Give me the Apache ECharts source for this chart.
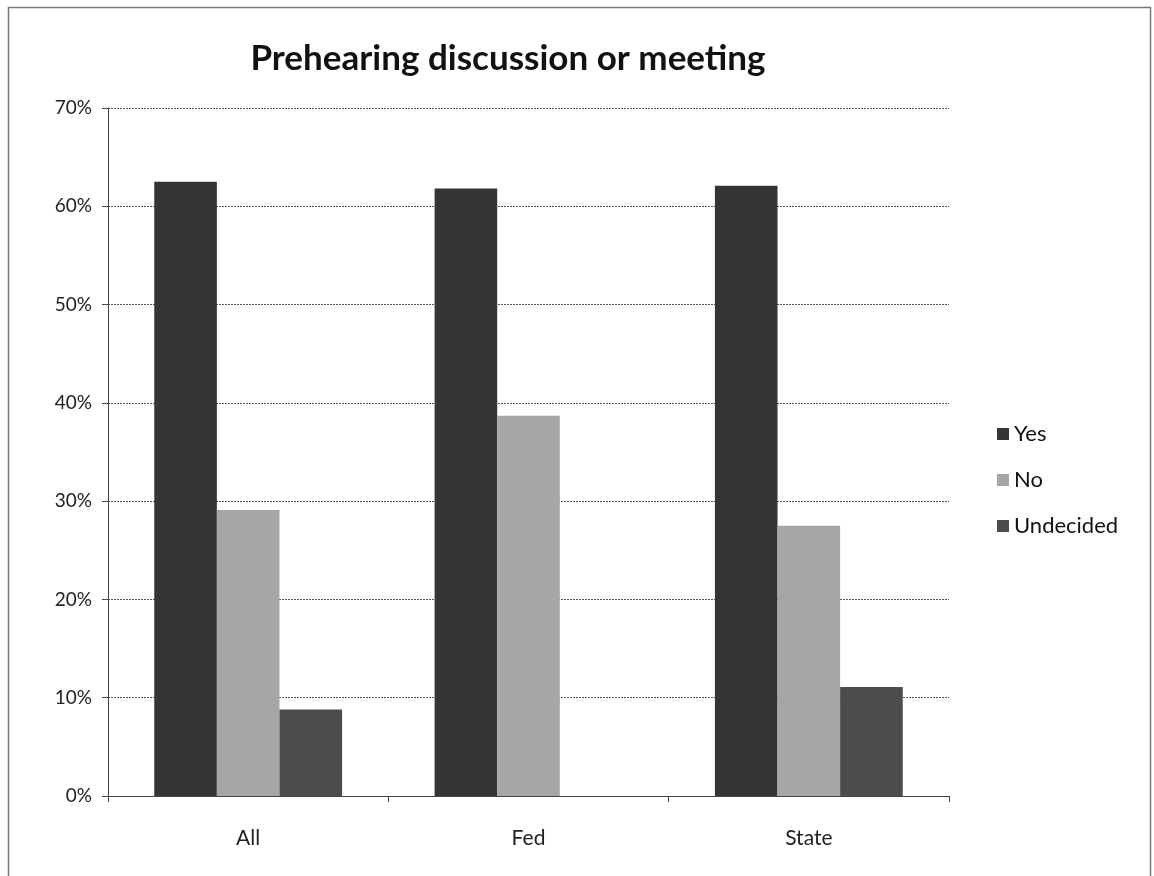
<!DOCTYPE html>
<html>
<head>
<meta charset="utf-8">
<script src="https://cdn.jsdelivr.net/npm/echarts@6/dist/echarts.min.js"></script>
<style>
html,body{margin:0;padding:0;background:#fff;}
#chart{width:1154px;height:876px;}
</style>
</head>
<body>
<div id="chart"></div>
<script>
const categories = ['All', 'Fed', 'State'];
const seriesNames = ['Yes', 'No', 'Undecided'];
const yesValues = [62.5, 61.8, 62.1];
const noValues = [29.1, 38.7, 27.5];
const undecidedValues = [8.8, 0, 11.1];
const yTicks = [0, 10, 20, 30, 40, 50, 60, 70];

const chart = echarts.init(document.getElementById('chart'));
const font = 'Lato, "Open Sans", sans-serif';
const colors = ['#353535', '#a6a6a6', '#4c4c4c'];
const values = [yesValues, noValues, undecidedValues];

chart.setOption({
  backgroundColor: '#fff',
  animation: false,
  title: {
    text: 'Prehearing discussion or meeting',
    left: 503, top: 36, textAlign: 'center',
    textStyle: { fontFamily: font, fontSize: 35, fontWeight: 'bold', color: '#111' }
  },
  legend: {
    orient: 'vertical', left: 992, top: 417,
    itemWidth: 12, itemHeight: 12, itemGap: 22,
    icon: 'rect',
    textStyle: { fontFamily: font, fontSize: 22, lineHeight: 24, color: '#111' },
    data: seriesNames
  },
  grid: { left: 108, right: 205, top: 108, bottom: 80, containLabel: false },
  xAxis: {
    type: 'category', data: categories,
    axisLine: { lineStyle: { color: '#444', width: 1 } },
    axisTick: { show: true, length: 6, lineStyle: { color: '#444' } },
    axisLabel: { fontFamily: font, fontSize: 21, color: '#222', margin: 32 }
  },
  yAxis: {
    type: 'value', min: yTicks[0], max: yTicks[yTicks.length - 1], interval: 10,
    axisLine: { show: true, lineStyle: { color: '#444', width: 1 } },
    axisTick: { show: true, length: 6, lineStyle: { color: '#444' } },
    axisLabel: { fontFamily: font, fontSize: 19, color: '#222', margin: 16, formatter: v => v + '%' },
    splitLine: { lineStyle: { color: '#555', width: 1, type: [2, 1] } }
  },
  series: seriesNames.map((n, i) => ({
    name: n, type: 'bar', data: values[i],
    barGap: '0%', barCategoryGap: '33%',
    itemStyle: { color: colors[i] }
  })),
  graphic: [{
    type: 'rect', shape: { x: 8.5, y: 7.5, width: 1142, height: 872 },
    style: { fill: 'none', stroke: '#777', lineWidth: 1.5 }, silent: true
  }]
});
</script>
</body>
</html>
